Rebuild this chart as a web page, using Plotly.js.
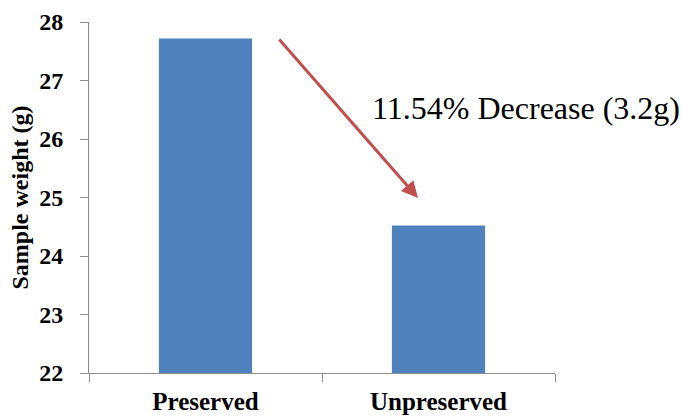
<!DOCTYPE html>
<html>
<head>
<meta charset="utf-8">
<script src="https://cdn.plot.ly/plotly-3.0.1.min.js"></script>
<style>
  html, body { margin: 0; padding: 0; background: #fff; }
  #chart { width: 681px; height: 417px; }
</style>
</head>
<body>
<div id="chart"></div>
<script>
// Sample weights (g) for the two sample groups
const categories = ["Preserved", "Unpreserved"];
const weights = [27.72, 24.52];
const yTicks = [22, 23, 24, 25, 26, 27, 28];

const serif = "Liberation Serif";
const axisGrey = "#8c8c8c";

const loss = weights[0] - weights[1];
const lossPct = loss / weights[0] * 100;
const label = lossPct.toFixed(2) + "% Decrease (" + loss.toFixed(1) + "g)";

const trace = {
  type: "bar",
  x: categories,
  y: weights,
  width: 0.4,
  marker: { color: "#4f81bd", line: { width: 0 } },
  hoverinfo: "x+y"
};

const layout = {
  width: 681,
  height: 417,
  margin: { l: 89, r: 126, t: 22, b: 44, pad: 0 },
  paper_bgcolor: "#ffffff",
  plot_bgcolor: "#ffffff",
  showlegend: false,
  font: { family: serif, color: "#000" },
  xaxis: {
    type: "category",
    range: [-0.5, 1.5],
    showline: true,
    linecolor: axisGrey,
    linewidth: 1,
    ticks: "outside",
    tickson: "boundaries",
    ticklen: 8,
    tickcolor: axisGrey,
    ticklabelstandoff: 6,
    showgrid: false,
    zeroline: false,
    tickfont: { family: serif, size: 25, weight: "bold", color: "#000" }
  },
  yaxis: {
    range: [22, 28],
    tickvals: yTicks,
    ticktext: yTicks.map(String),
    showline: true,
    linecolor: axisGrey,
    linewidth: 1,
    ticks: "outside",
    ticklen: 8,
    tickcolor: axisGrey,
    ticklabelstandoff: 12,
    showgrid: false,
    zeroline: false,
    tickfont: { family: serif, size: 24, weight: "bold", color: "#000" },
    title: {
      text: "Sample weight (g)",
      standoff: 3,
      font: { family: serif, size: 24, weight: "bold", color: "#000" }
    }
  },
  annotations: [
    {
      xref: "paper", yref: "paper",
      x: 0.706, y: 0.4986,
      axref: "pixel", ayref: "pixel",
      ax: -140, ay: -160,
      text: "",
      showarrow: true,
      arrowhead: 2,
      arrowsize: 1.1,
      arrowwidth: 3,
      arrowcolor: "#c0504d",
      standoff: 0
    },
    {
      xref: "paper", yref: "paper",
      x: 0.603, y: 0.755,
      xanchor: "left", yanchor: "middle",
      text: label,
      showarrow: false,
      font: { family: serif, size: 32, color: "#000" }
    }
  ]
};

Plotly.newPlot("chart", [trace], layout, { displayModeBar: false, staticPlot: true });
</script>
</body>
</html>
